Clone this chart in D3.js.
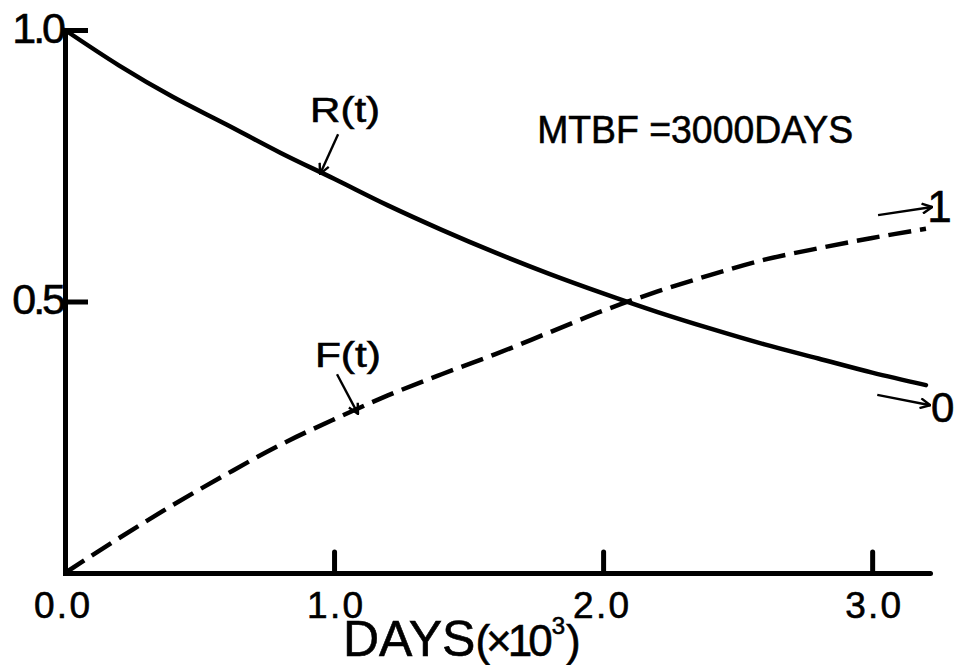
<!DOCTYPE html>
<html>
<head>
<meta charset="utf-8">
<script src="https://cdn.jsdelivr.net/npm/d3@7"></script>
<style>
  html, body { margin: 0; padding: 0; background: #fff; }
  svg { display: block; }
  text { font-family: "Liberation Sans", Arial, Helvetica, sans-serif; fill: #000; stroke: #000; stroke-width: 0.6px; }
</style>
</head>
<body>
<svg id="chart" width="959" height="665"></svg>
<script>
// ---- data (time in thousands of days) ----
const tValues = [0, 0.2, 0.4, 0.6, 0.8, 1.0, 1.2, 1.4, 1.6, 1.8, 2.0, 2.2, 2.4, 2.6, 2.8, 3.0, 3.2];
const reliability = [1.000, 0.935, 0.877, 0.826, 0.774, 0.726, 0.677, 0.632, 0.590, 0.551, 0.515, 0.481, 0.450, 0.421, 0.395, 0.369, 0.346];
const failure     = [0.000, 0.064, 0.125, 0.182, 0.236, 0.283, 0.327, 0.366, 0.403, 0.443, 0.483, 0.518, 0.549, 0.577, 0.598, 0.617, 0.634];
const xTickValues = [0, 1, 2, 3];
const xTickLabels = ["0.0", "1.0", "2.0", "3.0"];
const yTickValues = [0.5, 1.0];
const yTickLabels = ["0.5", "1.0"];
const xMax = 3.215;
const mtbfText = "MTBF =3000DAYS";
// annotations in data coordinates
const labels = [
  { text: "R(t)", t: 0.911, v: 0.831, size: 35, len: 70 },
  { text: "F(t)", t: 0.929, v: 0.379, size: 35, len: 66 },
  { text: "1",    t: 3.205, v: 0.646, size: 44, len: null },
  { text: "0",    t: 3.219, v: 0.278, size: 42, len: null },
  { text: mtbfText, t: 1.755, v: 0.792, size: 39, len: 316 }
];
const arrows = [
  { t0: 1.015, v0: 0.808, t1: 0.948, v1: 0.735 },
  { t0: 1.011, v0: 0.366, t1: 1.089, v1: 0.293 },
  { t0: 3.022, v0: 0.659, t1: 3.223, v1: 0.674 },
  { t0: 3.019, v0: 0.328, t1: 3.216, v1: 0.309 }
];

// ---- layout ----
const svg = d3.select("#chart");
const x = d3.scaleLinear().domain([0, xMax]).range([65, 930]);
const y = d3.scaleLinear().domain([0, 1]).range([573, 30]);

svg.append("defs").append("marker")
  .attr("id", "head")
  .attr("viewBox", "0 0 12 12")
  .attr("refX", 11).attr("refY", 6)
  .attr("markerWidth", 12).attr("markerHeight", 12)
  .attr("markerUnits", "userSpaceOnUse")
  .attr("orient", "auto")
  .append("path")
  .attr("d", "M1,1 L11,6 L1,11")
  .attr("fill", "none").attr("stroke", "#000").attr("stroke-width", 2.4)
  .attr("stroke-linejoin", "miter");

// x axis
const xAxis = d3.axisBottom(x)
  .tickValues(xTickValues)
  .tickFormat((d, i) => xTickLabels[i])
  .tickSize(-21).tickSizeOuter(0).tickPadding(10);
const gx = svg.append("g").attr("transform", `translate(0,${y(0)})`).call(xAxis);
gx.select(".domain").attr("stroke", "#000").attr("stroke-width", 5).attr("stroke-linecap", "round");
gx.selectAll(".tick line").attr("stroke", "#000").attr("stroke-width", 5).attr("stroke-linecap", "round")
  .filter(d => d === 0).remove();
gx.selectAll(".tick text")
  .attr("font-size", 37).attr("font-family", "Liberation Sans, Arial, sans-serif")
  .attr("fill", "#000")
  .attr("y", 0).attr("dy", 45)
  .attr("dx", d => d === 0 ? -4 : (d === 2 ? -3 : 0))
  .attr("textLength", 55).attr("lengthAdjust", "spacing")
  .style("letter-spacing", "-1px");

// y axis
const yAxis = d3.axisLeft(y)
  .tickValues(yTickValues)
  .tickFormat((d, i) => yTickLabels[i])
  .tickSize(-23).tickSizeOuter(0).tickPadding(2);
const gy = svg.append("g").attr("transform", `translate(${x(0)},0)`).call(yAxis);
gy.select(".domain").attr("stroke", "#000").attr("stroke-width", 5).attr("stroke-linecap", "square");
gy.selectAll(".tick line").attr("stroke", "#000").attr("stroke-width", 5);
gy.selectAll(".tick text")
  .attr("font-size", 43).attr("font-family", "Liberation Sans, Arial, sans-serif")
  .attr("fill", "#000")
  .attr("dy", "0.28em")
  .style("letter-spacing", "-3px");

// curves
const line = d3.line().x((d, i) => x(tValues[i])).y(d => y(d)).curve(d3.curveCatmullRom.alpha(0.5));
svg.append("path").datum(reliability)
  .attr("d", line).attr("fill", "none").attr("stroke", "#000").attr("stroke-width", 4.5)
  .attr("stroke-linecap", "round");
svg.append("path").datum(failure)
  .attr("d", line).attr("fill", "none").attr("stroke", "#000").attr("stroke-width", 4.5)
  .attr("stroke-dasharray", "23,9");

// annotations
arrows.forEach(a => {
  svg.append("line")
    .attr("x1", x(a.t0)).attr("y1", y(a.v0))
    .attr("x2", x(a.t1)).attr("y2", y(a.v1))
    .attr("stroke", "#000").attr("stroke-width", 2.4)
    .attr("marker-end", "url(#head)");
});
labels.forEach(l => {
  const t = svg.append("text")
    .attr("x", x(l.t)).attr("y", y(l.v))
    .attr("font-size", l.size)
    .text(l.text);
  if (l.len) t.attr("textLength", l.len).attr("lengthAdjust", "spacingAndGlyphs");
});

// x axis title: DAYS(×10³)
const base = y(0) + 83;
const title = svg.append("text").attr("x", 343).attr("y", base).attr("font-size", 50);
title.append("tspan").text("DAYS");
title.append("tspan").attr("font-size", 44).style("letter-spacing", "-4px").text("(×10");
title.append("tspan").attr("font-size", 24).attr("dx", 3).attr("dy", -22).text("3");
title.append("tspan").attr("font-size", 44).attr("dx", 1).attr("dy", 22).text(")");
</script>
</body>
</html>
